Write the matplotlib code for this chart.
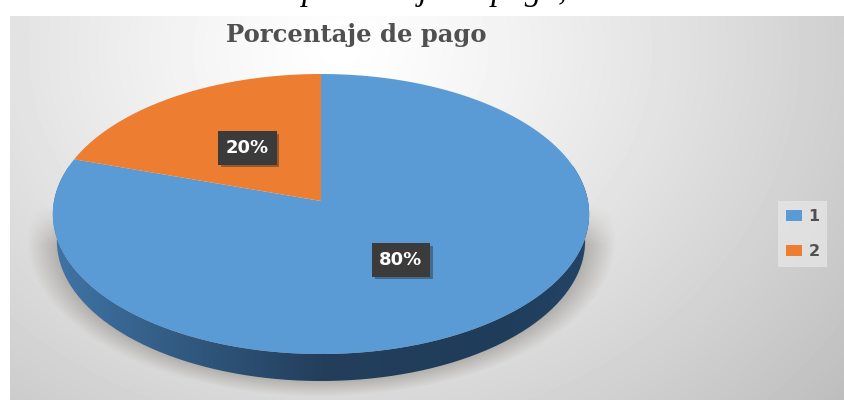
import numpy as np
import matplotlib
matplotlib.use("Agg")
import matplotlib.pyplot as plt
import matplotlib.patheffects as pe
from matplotlib.path import Path
from matplotlib.patches import PathPatch
from matplotlib.transforms import Transform, Affine2D

labels = ["1", "2"]
values = [80, 20]
colors = ["#5b9bd5", "#ed7d31"]
title = "Porcentaje de pago"
caption = "porcentaje de pago,"

# pie tilt, in pixels
cx, cy = 321, 201
kx, ky, c = 267, 138.8, 0.0929
depth = 27


class Tilt(Transform):
    input_dims = output_dims = 2

    def transform_non_affine(self, xy):
        xy = np.asarray(xy)
        d = 1 + c * xy[:, 1]
        return np.column_stack([cx + kx * xy[:, 0] / d, cy - ky * xy[:, 1] / d])

    def transform_path_non_affine(self, path):
        polys = path.transformed(Affine2D().scale(3000)).to_polygons()
        return Path(self.transform_non_affine(polys[0] / 3000))


fig = plt.figure(figsize=(8.45, 4), dpi=100)
ax = fig.add_axes([0, 0, 1, 1])
ax.set_xlim(0, 845)
ax.set_ylim(400, 0)
ax.axis("off")

# panel background
xx, yy = np.meshgrid(np.arange(845), np.arange(400))
d = np.sqrt(((xx - 340) / 505.0) ** 2 + ((yy - 50) / 420.0) ** 2)
bg = (255 - 48 * d ** 1.2) / 255.0
bg[:, :10] = 1
bg[:16, :] = 1
ax.imshow(bg, cmap="gray", vmin=0, vmax=1, extent=(0, 845, 400, 0), aspect="auto", zorder=0)

# soft shadow under the pie
e = np.sqrt(((xx - 321) / 283.0) ** 2 + ((yy - 240) / 150.0) ** 2)
sh = np.clip((1.04 - e) / 0.12, 0, 1) * np.clip((yy - 205) / 40.0, 0, 1) * 0.55
shadow = np.zeros((400, 845, 4))
shadow[..., :3] = np.array([0x85, 0x80, 0x78]) / 255.0
shadow[..., 3] = sh
ax.imshow(shadow, extent=(0, 845, 400, 0), aspect="auto", zorder=1)
ax.set_xlim(0, 845)
ax.set_ylim(400, 0)

# side wall of the disc
tilt = Tilt()
th = np.radians(np.linspace(165, 375, 200))
rim = tilt.transform_non_affine(np.column_stack([np.cos(th), np.sin(th)]))
low = np.column_stack([cx + (rim[:, 0] - cx) * 0.985, rim[:, 1] + depth])
wall = PathPatch(Path(np.vstack([rim, low[::-1], rim[:1]])), fc="none", ec="none", zorder=2)
ax.add_patch(wall)
stops_x = [50, 150, 321, 500, 590]
stops_r = [0x40, 0x35, 0x23, 0x1f, 0x24]
stops_g = [0x75, 0x60, 0x3f, 0x3c, 0x45]
stops_b = [0xa8, 0x8a, 0x5c, 0x5a, 0x68]
col = np.arange(845)
grad = np.column_stack([np.interp(col, stops_x, s) for s in (stops_r, stops_g, stops_b)])[None, :, :] / 255.0
im = ax.imshow(grad, extent=(0, 845, 400, 0), aspect="auto", zorder=2)
im.set_clip_path(wall)

# top of the disc
wedges, _, autotexts = ax.pie(values, colors=colors, startangle=90, counterclock=False,
                              frame=True, autopct="%d%%",
                              wedgeprops={"transform": tilt + ax.transData, "zorder": 3, "linewidth": 0})
ax.set_xlim(0, 845)
ax.set_ylim(400, 0)
ax.set_aspect("auto")
ax.axis("off")

label_pos = [(401, 260), (247.5, 148)]
for t, p in zip(autotexts, label_pos):
    t.set_position(p)
    t.set(color="white", fontweight="bold", fontsize=13, ha="center", va="center", zorder=5)
    t.set_bbox(dict(boxstyle="square,pad=0.42", fc="#3b3b3b", ec="none"))
    t.get_bbox_patch().set_path_effects([
        pe.SimplePatchShadow(offset=(2, -2), shadow_rgbFace="#222222", alpha=0.4), pe.Normal()])

ax.text(356.5, 42, title, family="DejaVu Serif", fontweight="bold", fontsize=17.5,
        color="#505050", ha="center", va="baseline", zorder=5)
fig.text(435 / 845, 1 - 0 / 400, caption, family="Liberation Serif", style="italic",
         fontsize=24, color="black", ha="center", va="baseline")

leg = ax.legend(wedges, labels, loc="center left", bbox_to_anchor=(778 / 845, 1 - 234 / 400),
                frameon=True, facecolor="#e8e8e8", edgecolor="none", framealpha=0.7, fancybox=False,
                prop={"size": 11.5, "weight": "bold"}, labelcolor="#505050",
                handlelength=1.0, handleheight=0.75, handletextpad=0.4, labelspacing=1.25,
                borderpad=0.5, borderaxespad=0)
leg.set_zorder(6)

fig.savefig("out.png", dpi=100)
